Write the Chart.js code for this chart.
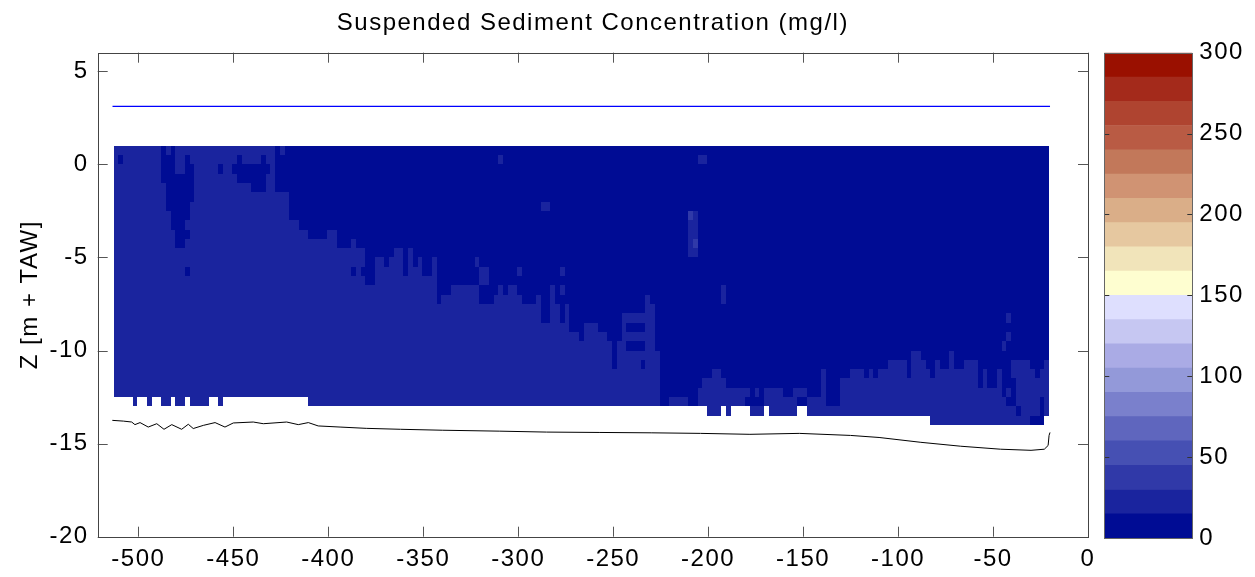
<!DOCTYPE html>
<html><head><meta charset="utf-8">
<script src="https://cdn.jsdelivr.net/npm/chart.js@4.4.1/dist/chart.umd.min.js"></script>
<style>
html,body{margin:0;padding:0;background:#fff;}
#wrap{position:relative;width:1255px;height:577px;overflow:hidden;}
#wrap canvas{position:absolute;left:0;top:0;}
</style></head><body>
<div id="wrap"><canvas id="main" width="1255" height="577"></canvas><canvas id="cbar" width="1255" height="577"></canvas></div>
<script>
// ---------- tick labels ----------
const xTicks = [-500,-450,-400,-350,-300,-250,-200,-150,-100,-50,0];
const zTicks = [-20,-15,-10,-5,0,5];
const cbTicks = [0,50,100,150,200,250,300];
const xRange = [-521.4, 0];
const zRange = [-20, 6];

// ---------- colour classes (mg/l) ----------
const cbLevels = [0,15,30,45,60,75,90,105,120,135,150,165,180,195,210,225,240,255,270,285,300];
const cmapColors = ['#000c94','#1a249e','#3039a8','#4650b3','#5f66be','#7a80cc','#9399d9','#aaabe5','#c6c7f2','#dedffe',
                    '#fefed0','#f1e4ba','#e6c8a0','#daae88','#d09373','#c2785a','#b95b44','#af4430','#a42a1b','#9a1000'];
const classValues = [8, 22, 37];   // concentration of each class

// ---------- measurement grid (distance x depth) ----------
const gridX0 = -513, gridDX = 2.5, nCols = 197;   // distance of first cell edge, cell width (m)
const gridZ0 = 1, gridDZ = 0.5;                    // top of first row, row height (m)

// first row (from top) in the 15-30 mg/l class, per column; 99 = none
const boundary = [
 0,0,0,0,0,0,0,0,0,0,
 0,0,0,0,0,0,0,0,0,0,
 0,0,0,0,0,0,0,0,0,0,
 0,0,0,0,5,5,5,8,8,9,
 9,10,10,10,10,9,9,11,11,11,
 10,11,11,15,15,12,12,13,12,11,
 11,14,11,13,12,14,14,12,17,16,
 16,15,15,15,15,15,15,17,17,17,
 16,15,16,15,15,16,17,17,17,16,
 19,19,15,17,19,17,20,20,21,19,
 19,19,20,20,21,24,21,18,18,18,
 18,18,16,17,22,99,99,27,27,27,
 27,99,99,26,25,25,24,24,25,26,
 26,26,26,26,28,26,28,26,26,26,
 26,27,27,26,26,26,27,27,27,24,
 28,28,28,25,25,24,24,24,24,24,
 24,24,24,23,23,23,23,25,22,22,
 23,24,25,23,24,24,22,24,24,23,
 23,23,26,24,26,26,24,27,26,23,
 23,23,23,24,25,24,23
];
// last row containing a measurement, per column
const lastRow = [
 26,26,26,26,27,26,26,27,26,26,
 27,27,26,27,27,26,27,27,27,27,
 26,26,27,26,26,26,26,26,26,26,
 26,26,26,26,26,26,26,26,26,26,
 26,27,27,27,27,27,27,27,27,27,
 27,27,27,27,27,27,27,27,27,27,
 27,27,27,27,27,27,27,27,27,27,
 27,27,27,27,27,27,27,27,27,27,
 27,27,27,27,27,27,27,27,27,27,
 27,27,27,27,27,27,27,27,27,27,
 27,27,27,27,27,27,27,27,27,27,
 27,27,27,27,27,27,27,27,27,27,
 27,27,27,27,27,28,28,28,27,28,
 27,27,27,27,28,28,28,27,28,28,
 28,28,28,28,27,27,28,28,28,28,
 28,28,28,28,28,28,28,28,28,28,
 28,28,28,28,28,28,28,28,28,28,
 28,28,29,29,29,29,29,29,29,29,
 29,29,29,29,29,29,29,29,29,29,
 29,29,29,29,29,29,28
];
// patches [colFrom, colTo, rowFrom, rowTo, class]
const cellPatches = [
 [1,1,1,1,0],[10,10,0,0,0],[12,12,0,0,0],[10,12,1,2,0],[15,15,1,1,0],[15,16,2,2,0],
 [10,16,3,3,0],[11,16,4,5,0],[11,15,6,6,0],[12,15,7,7,0],[12,14,8,8,0],[13,15,9,9,0],
 [13,14,10,10,0],[15,15,13,13,0],[22,22,2,2,0],[26,26,1,1,0],[31,31,1,1,0],[25,32,2,2,0],
 [26,31,3,3,0],[29,31,4,4,0],
 [35,35,0,0,1],[81,81,1,1,1],[90,91,6,6,1],[76,76,12,12,1],[77,78,13,14,1],[85,85,13,13,1],
 [94,94,13,13,1],[94,94,15,15,1],[123,124,1,1,1],[121,122,7,11,1],[121,121,7,7,2],[122,122,10,10,2],
 [128,128,15,16,1],[188,188,18,18,1],[188,188,20,20,1],[187,187,21,21,1],
 [50,50,13,13,0],[52,52,13,13,0],[108,111,19,19,0],[108,111,21,21,0],[111,111,23,23,0],
 [133,133,27,27,0],[135,135,27,27,0],[144,145,27,27,0],[158,158,24,24,0],[160,160,24,24,0],
 [188,189,27,27,0],[189,189,25,26,0],[190,190,28,28,0],[193,195,29,29,0],[195,195,27,28,0]
];

// ---------- lines ----------
const waterX = [-513.6, -20];
const waterZ = [3.12, 3.12];
const bedX = [-513.7,-507.9,-503.5,-501.8,-499.1,-494.8,-490.3,-486.5,-482.4,-477.2,-473.7,-471.1,-465.8,-459.6,-454.4,-450,-439.5,-434.2,-421.9,-415.8,-410.5,-405.3,-393.8,-380,-362,-340,-310,-285,-257,-230,-204,-178,-152,-125,-110,-88,-67,-46,-30,-23,-21,-20.5,-20];
const bedZ = [-13.75,-13.79,-13.84,-13.98,-13.87,-14.11,-13.93,-14.23,-13.98,-14.23,-13.96,-14.19,-14.02,-13.87,-14.11,-13.89,-13.84,-13.93,-13.84,-13.98,-13.87,-14.05,-14.11,-14.18,-14.23,-14.28,-14.33,-14.38,-14.40,-14.42,-14.45,-14.50,-14.45,-14.56,-14.67,-14.93,-15.14,-15.30,-15.36,-15.30,-15.10,-14.56,-14.40];

// ---------- build concentration table ----------
const conc = [];
for (let c = 0; c < nCols; c++) {
  const col = [];
  for (let r = 0; r <= lastRow[c]; r++) col.push(classValues[r < boundary[c] ? 0 : 1]);
  conc.push(col);
}
for (const [c0,c1,r0,r1,k] of cellPatches)
  for (let c = c0; c <= c1; c++) for (let r = r0; r <= r1; r++) if (r <= lastRow[c]) conc[c][r] = classValues[k];

function colorFor(v){
  for (let i = 0; i < cbLevels.length-1; i++) if (v < cbLevels[i+1]) return cmapColors[i];
  return cmapColors[cmapColors.length-1];
}

const FONT = "'Liberation Sans', Arial, Helvetica, sans-serif";
const spacing = { id:'spacing',
  beforeUpdate(ch){ ch.ctx.letterSpacing='1.5px'; },
  beforeLayout(ch){ ch.ctx.letterSpacing='1.5px'; },
  beforeDraw(ch){ ch.ctx.letterSpacing='1.5px'; } };

const heatmap = { id:'heatmap',
  beforeDatasetsDraw(chart){
    const {ctx, scales:{x,y}} = chart;
    ctx.save();
    for (let c = 0; c < conc.length; c++) {
      const xa = Math.round(x.getPixelForValue(gridX0 + c*gridDX));
      const xb = Math.round(x.getPixelForValue(gridX0 + (c+1)*gridDX));
      for (let r = 0; r < conc[c].length; r++) {
        const ya = Math.round(y.getPixelForValue(gridZ0 - r*gridDZ));
        const yb = Math.round(y.getPixelForValue(gridZ0 - (r+1)*gridDZ));
        ctx.fillStyle = colorFor(conc[c][r]);
        ctx.fillRect(xa, ya, xb-xa, yb-ya);
      }
    }
    ctx.restore();
  }};

const axesBox = { id:'axesBox',
  afterDatasetsDraw(chart){
    const {ctx, chartArea:a, scales:{x,y}} = chart;
    ctx.save();
    ctx.strokeStyle = '#555'; ctx.lineWidth = 1;
    ctx.beginPath();
    for (const v of xTicks){ const p = Math.round(x.getPixelForValue(v))+0.5;
      ctx.moveTo(p,a.bottom); ctx.lineTo(p,a.bottom-10); ctx.moveTo(p,a.top); ctx.lineTo(p,a.top+10); }
    for (const v of zTicks){ const p = Math.round(y.getPixelForValue(v))+0.5;
      ctx.moveTo(a.left,p); ctx.lineTo(a.left+10,p); ctx.moveTo(a.right,p); ctx.lineTo(a.right-10,p); }
    ctx.stroke();
    ctx.strokeStyle = '#444';
    ctx.strokeRect(Math.round(a.left)+0.5, Math.round(a.top)+0.5, Math.round(a.right)-Math.round(a.left), Math.round(a.bottom)-Math.round(a.top));
    ctx.restore();
  }};

new Chart(document.getElementById('main'), {
  type:'scatter',
  data:{ datasets:[
    { data: waterX.map((v,i)=>({x:v,y:waterZ[i]})), showLine:true, borderColor:'#0000ff', borderWidth:1.2, pointRadius:0 },
    { data: bedX.map((v,i)=>({x:v,y:bedZ[i]})), showLine:true, borderColor:'#000000', borderWidth:1, pointRadius:0 }
  ]},
  options:{
    responsive:false, animation:false, events:[],
    layout:{ padding:{ left:0, right:167, top:0, bottom:0 } },
    plugins:{ legend:{display:false}, tooltip:{enabled:false}, title:{display:false} },
    scales:{
      x:{ type:'linear', min:xRange[0], max:xRange[1],
          afterBuildTicks:s=>{ s.ticks = xTicks.map(v=>({value:v})); },
          afterFit:s=>{ s.height = 40.3; },
          grid:{display:false, drawTicks:false}, border:{display:false},
          ticks:{ color:'#000', font:{family:FONT,size:24}, padding:8, maxRotation:0, autoSkip:false, callback:v=>String(v) } },
      top:{ type:'linear', position:'top', min:xRange[0], max:xRange[1],
          afterFit:s=>{ s.height = 52.7; },
          grid:{display:false, drawTicks:false}, border:{display:false},
          ticks:{ display:false },
          title:{ display:true, text:'Suspended Sediment Concentration (mg/l)', color:'#000',
                  font:{family:FONT, size:24, weight:'normal'}, padding:{top:9, bottom:0} } },
      y:{ type:'linear', min:zRange[0], max:zRange[1],
          afterBuildTicks:s=>{ s.ticks = zTicks.map(v=>({value:v})); },
          afterFit:s=>{ s.width = 97.7; },
          grid:{display:false, drawTicks:false}, border:{display:false},
          ticks:{ color:'#000', font:{family:FONT,size:24}, padding:9, autoSkip:false, callback:v=>String(v) },
          title:{ display:true, text:'Z [m + TAW]', color:'#000', font:{family:FONT,size:24}, padding:{top:16,bottom:0} } }
    }
  },
  plugins:[spacing, heatmap, axesBox]
});

const cbFrame = { id:'cbFrame',
  afterDatasetsDraw(chart){
    const {ctx, chartArea:a, scales:{y}} = chart;
    ctx.save();
    ctx.strokeStyle = '#333'; ctx.lineWidth = 1;
    ctx.beginPath();
    for (const v of cbTicks.slice(1,-1)){ const p = Math.round(y.getPixelForValue(v))+0.5;
      ctx.moveTo(a.left,p); ctx.lineTo(a.left+5,p); ctx.moveTo(a.right,p); ctx.lineTo(a.right-5,p); }
    ctx.stroke();
    ctx.strokeStyle = '#666';
    ctx.strokeRect(Math.round(a.left)+0.5, Math.round(a.top)+0.5, Math.round(a.right)-Math.round(a.left), Math.round(a.bottom)-Math.round(a.top));
    ctx.restore();
  }};

new Chart(document.getElementById('cbar'), {
  type:'bar',
  data:{ labels:['c'], datasets: cmapColors.map((col,i)=>({
    data:[[cbLevels[i], cbLevels[i+1]]], backgroundColor:col, borderWidth:0,
    barPercentage:1, categoryPercentage:1, grouped:false })) },
  options:{
    responsive:false, animation:false, events:[],
    layout:{ padding:{ left:1104.3, right:2.7, top:52.7, bottom:39 } },
    plugins:{ legend:{display:false}, tooltip:{enabled:false}, title:{display:false} },
    scales:{
      x:{ display:false },
      y:{ position:'right', min:0, max:300,
          afterBuildTicks:s=>{ s.ticks = cbTicks.map(v=>({value:v})); },
          afterFit:s=>{ s.width = 60; },
          grid:{display:false, drawTicks:false}, border:{display:false},
          ticks:{ color:'#000', font:{family:FONT,size:24}, padding:7, autoSkip:false, callback:v=>String(v) } }
    }
  },
  plugins:[spacing, cbFrame]
});
</script>
</body></html>
